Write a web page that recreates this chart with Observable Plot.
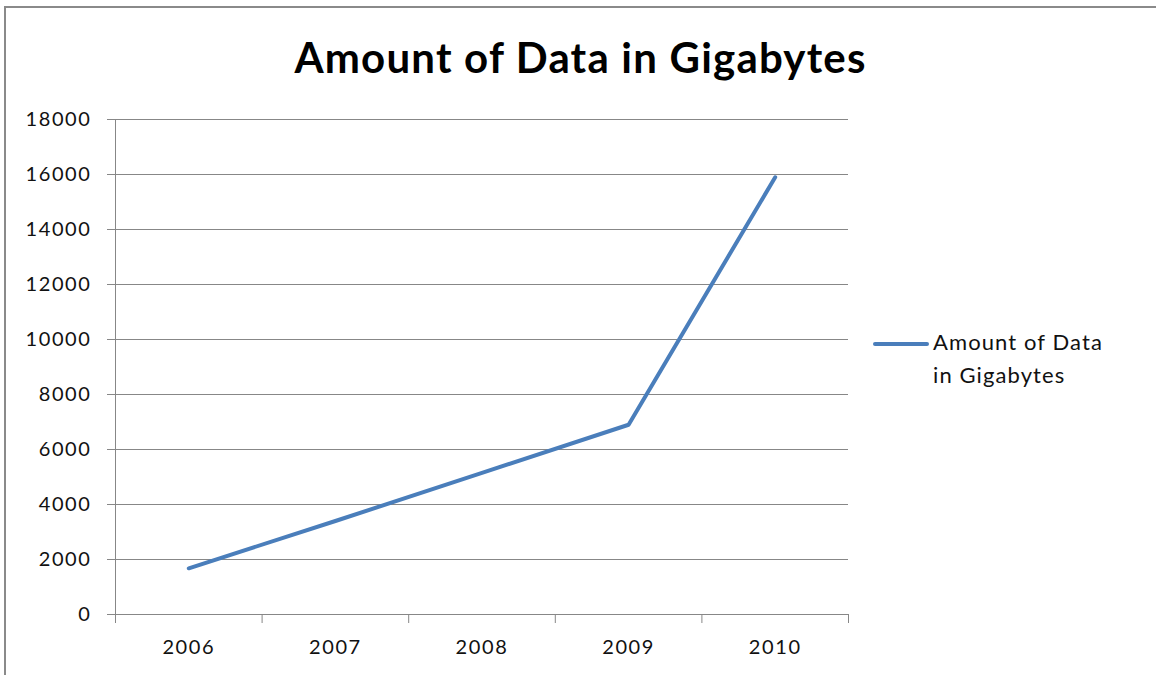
<!DOCTYPE html>
<html>
<head>
<meta charset="utf-8">
<script src="https://cdn.jsdelivr.net/npm/d3@7"></script>
<script src="https://cdn.jsdelivr.net/npm/@observablehq/plot@0.6"></script>
<style>
  html, body { margin: 0; padding: 0; background: #fff; }
  #wrap { position: relative; width: 1156px; height: 675px; overflow: hidden; font-family: Lato, "Open Sans", sans-serif; }
  #frame { position: absolute; left: 4px; top: 6px; width: 1200px; height: 700px; border-left: 2px solid #8a8a8a; border-top: 2px solid #8a8a8a; box-sizing: border-box; }
  #title { position: absolute; left: 0; top: 32px; width: 1161px; text-align: center; font-size: 42px; letter-spacing: 1.2px; font-weight: 700; color: #000; line-height: 50px; }
  #legend { position: absolute; left: 873px; top: 325px; font-size: 22px; letter-spacing: 1.1px; color: #111; line-height: 33px; }
  #legend .sw { position: absolute; left: 0; top: 17px; width: 56px; height: 4px; border-radius: 2px; background: #4a7ebb; }
  #legend .txt { position: absolute; left: 60px; top: 0; white-space: nowrap; }
  #chart { position: absolute; left: 0; top: 0; }
  #chart svg text { letter-spacing: 1.6px; }
</style>
</head>
<body>
<div id="wrap">
  <div id="frame"></div>
  <div id="chart"></div>
  <div id="title"></div>
  <div id="legend"><div class="sw"></div><div class="txt"></div></div>
</div>
<script>
const titleText = "Amount of Data in Gigabytes";
const legendLines = ["Amount of Data", "in Gigabytes"];
const years = [2006, 2007, 2008, 2009, 2010];
const amounts = [1680, 3400, 5150, 6900, 15900];
const yTicks = [0, 2000, 4000, 6000, 8000, 10000, 12000, 14000, 16000, 18000];
const lineColor = "#4a7ebb";
const gridColor = "#878787";

const data = years.map((y, i) => ({year: y, value: amounts[i]}));
const boundaries = [...years.map(y => y - 0.5), years[years.length - 1] + 0.5];

document.getElementById("title").textContent = titleText;
document.querySelector("#legend .txt").innerHTML = legendLines.join("<br>");

const chart = Plot.plot({
  width: 1156,
  height: 675,
  marginLeft: 115,
  marginRight: 308,
  marginTop: 119,
  marginBottom: 61,
  style: {fontFamily: "Lato, 'Open Sans', sans-serif", background: "transparent", color: "#111"},
  x: {type: "linear", domain: [boundaries[0], boundaries[boundaries.length - 1]]},
  y: {domain: [0, 18000]},
  marks: [
    Plot.gridY(yTicks, {stroke: gridColor, strokeOpacity: 1, strokeWidth: 1}),
    Plot.ruleX([boundaries[0]], {stroke: gridColor, strokeWidth: 1}),
    Plot.axisY(yTicks, {tickSize: 8, tickPadding: 16, stroke: gridColor, strokeOpacity: 1, fontSize: 20, fill: "#111", tickFormat: d3.format("d"), label: null}),
    Plot.axisX(boundaries, {tickSize: 9, tickFormat: () => "", stroke: gridColor, strokeOpacity: 1, label: null}),
    Plot.axisX(years, {tickSize: 0, tickPadding: 25, fontSize: 20, fill: "#111", tickFormat: d => String(d), label: null}),
    Plot.line(data, {x: "year", y: "value", stroke: lineColor, strokeWidth: 4, strokeLinecap: "round", strokeLinejoin: "round"})
  ]
});
document.getElementById("chart").appendChild(chart);
</script>
</body>
</html>
